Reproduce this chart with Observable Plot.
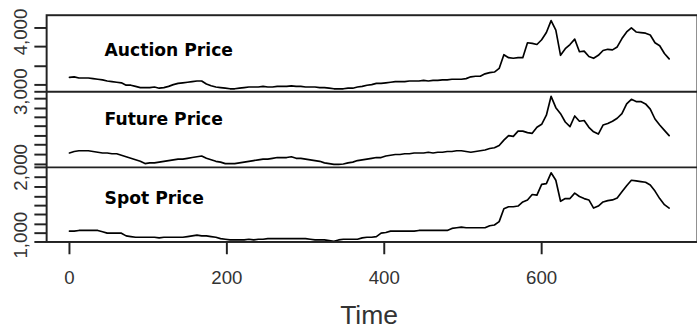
<!DOCTYPE html>
<html><head><meta charset="utf-8">
<script src="https://cdn.jsdelivr.net/npm/d3@7"></script>
<script src="https://cdn.jsdelivr.net/npm/@observablehq/plot@0.6"></script>
<style>
html,body{margin:0;padding:0;background:#fff;overflow:hidden;}
</style></head><body><div id="chart"></div>
<script>
const seriesNames = ["Auction Price", "Future Price", "Spot Price"];
const time = d3.range(0, 763, 6);
const auction = [3240,3250,3230,3230,3230,3220,3210,3200,3180,3170,
3160,3150,3110,3110,3090,3070,3070,3070,3080,3060,
3070,3090,3120,3140,3150,3160,3170,3180,3180,3130,
3100,3080,3070,3060,3050,3050,3060,3070,3080,3080,
3080,3090,3080,3080,3090,3090,3090,3100,3090,3090,
3080,3080,3080,3070,3070,3060,3050,3050,3050,3060,
3060,3080,3090,3110,3120,3140,3140,3150,3160,3170,
3170,3170,3180,3180,3180,3190,3180,3190,3190,3200,
3200,3210,3210,3210,3220,3250,3260,3260,3300,3320,
3330,3390,3620,3570,3560,3570,3570,3820,3810,3790,
3870,3990,4190,4030,3610,3720,3790,3880,3670,3680,
3590,3560,3610,3690,3710,3700,3750,3890,4000,4070,
4000,3990,3980,3950,3820,3770,3640,3550];
const future = [2190,2210,2220,2220,2220,2210,2200,2190,2190,2180,
2180,2160,2140,2120,2100,2080,2050,2060,2060,2070,
2080,2090,2100,2110,2110,2120,2130,2140,2150,2120,
2100,2080,2070,2050,2050,2050,2060,2070,2080,2090,
2100,2110,2110,2120,2130,2130,2130,2140,2120,2120,
2110,2100,2090,2080,2060,2050,2040,2040,2045,2060,
2070,2090,2100,2110,2120,2130,2130,2150,2160,2170,
2170,2180,2180,2190,2190,2190,2200,2190,2200,2200,
2210,2210,2220,2220,2210,2200,2210,2220,2230,2250,
2260,2290,2360,2420,2410,2480,2480,2460,2450,2530,
2570,2690,2940,2790,2710,2600,2540,2680,2610,2620,
2530,2470,2440,2560,2580,2610,2650,2710,2840,2900,
2870,2870,2840,2770,2640,2560,2490,2420];
const spot = [1060,1060,1070,1070,1070,1070,1070,1050,1030,1030,
1030,1030,990,980,970,970,970,970,970,960,
970,970,970,970,970,980,990,1000,990,990,
980,970,950,940,930,930,930,930,940,930,
940,940,950,950,950,950,950,950,950,950,
950,940,930,930,930,920,910,930,940,940,
940,940,960,970,970,980,1030,1040,1060,1060,
1060,1060,1060,1060,1070,1070,1070,1070,1070,1070,
1070,1100,1110,1120,1110,1110,1110,1110,1110,1140,
1150,1200,1390,1420,1420,1430,1490,1520,1600,1590,
1750,1760,1920,1810,1500,1540,1540,1620,1570,1540,
1520,1400,1430,1490,1510,1520,1550,1640,1730,1810,
1800,1790,1780,1740,1650,1540,1450,1400];
const xTicks = [0, 200, 400, 600];
const yLabels = [4000, 3000, 2000, 1000];
const yMinorTicks = [4067,3755,3427,3115,3000,2909,2779,2662,2545,2416,2299,2169,2039,2000,1855,1711,1566,1436,1305,1160,1030,900];
const panelBreaks = [3000, 2000];

const valuesBySeries = [auction, future, spot];
const rows = [];
seriesNames.forEach((s, i) => valuesBySeries[i].forEach((v, j) => rows.push({series: s, time: time[j], value: v})));

// piecewise axis: each panel keeps its own vertical resolution
const piece = d3.scaleLinear().domain([900, 2000, 3000, 4280]).range([0, 76, 153, 231]);

const ink = "#222";
const plot = Plot.plot({
  width: 710,
  height: 335,
  marginLeft: 47,
  marginRight: 0,
  marginTop: 15,
  marginBottom: 89,
  style: {fontFamily: "'Liberation Sans', Arial, sans-serif", background: "#fff", overflow: "visible"},
  x: {domain: [-29, 798]},
  y: {transform: piece, domain: [0, 231]},
  marks: [
    Plot.line(rows, {x: "time", y: "value", z: "series", stroke: "#000", strokeWidth: 1.7}),
    Plot.ruleY(panelBreaks, {stroke: ink, strokeWidth: 2}),
    Plot.frame({stroke: ink, strokeWidth: 2}),
    Plot.axisY(yMinorTicks, {tickSize: 12, tickFormat: () => "", label: null, stroke: ink, strokeWidth: 2}),
    Plot.text(yLabels, {y: d => d, text: d => d3.format(",")(d), rotate: -90, frameAnchor: "left", textAnchor: "middle", dx: -26, fontSize: 19, fill: "#333"}),
    Plot.axisX(xTicks, {tickSize: 13, tickPadding: 16, fontSize: 19, label: null, stroke: ink, strokeWidth: 2, fill: "#333"}),
    Plot.text(["Time"], {frameAnchor: "bottom", lineAnchor: "bottom", dx: -3, dy: 84, fontSize: 27, fill: "#333"}),
    Plot.text([seriesNames[0]], {frameAnchor: "top-left", textAnchor: "start", lineAnchor: "bottom", dx: 59, dy: 42, fontSize: 17.5, fontWeight: "bold", fontFamily: "DejaVu Sans", fill: "#000"}),
    Plot.text([seriesNames[1]], {frameAnchor: "top-left", textAnchor: "start", lineAnchor: "bottom", dx: 59, dy: 112, fontSize: 17.5, fontWeight: "bold", fontFamily: "DejaVu Sans", fill: "#000"}),
    Plot.text([seriesNames[2]], {frameAnchor: "top-left", textAnchor: "start", lineAnchor: "bottom", dx: 59, dy: 192, fontSize: 17.5, fontWeight: "bold", fontFamily: "DejaVu Sans", fill: "#000"})
  ]
});
document.getElementById("chart").appendChild(plot);
</script>
</body></html>
